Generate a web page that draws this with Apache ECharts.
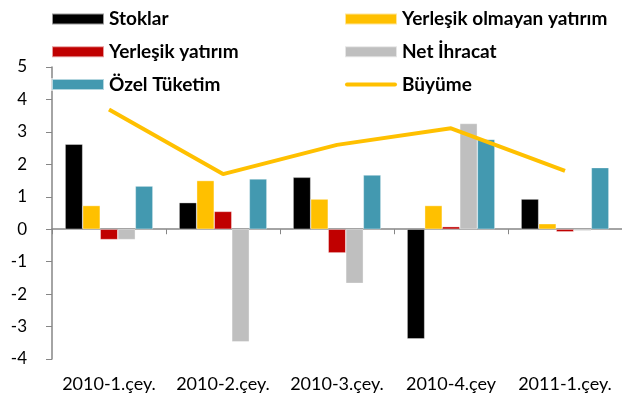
<!DOCTYPE html>
<html>
<head>
<meta charset="utf-8">
<script src="https://cdn.jsdelivr.net/npm/echarts@6/dist/echarts.min.js"></script>
<style>
  html, body { margin: 0; padding: 0; background: #fff; }
  #chart { width: 622px; height: 407px; }
</style>
</head>
<body>
<div id="chart"></div>
<script>
var kategoriler = ['2010-1.çey.', '2010-2.çey.', '2010-3.çey.', '2010-4.çey', '2011-1.çey.'];
var stoklar = [2.62, 0.82, 1.6, -3.38, 0.93];
var yerlesikOlmayan = [0.73, 1.5, 0.93, 0.73, 0.17];
var yerlesikYatirim = [-0.32, 0.55, -0.73, 0.08, -0.08];
var netIhracat = [-0.32, -3.47, -1.67, 3.26, -0.05];
var ozelTuketim = [1.33, 1.55, 1.67, 2.77, 1.9];
var buyume = [3.69, 1.7, 2.6, 3.11, 1.8];
var yTicks = [-4, -3, -2, -1, 0, 1, 2, 3, 4, 5];

var fontAd = 'Lato, "Liberation Sans", sans-serif';

function barSerisi(ad, veri, renk) {
    return {
        name: ad,
        type: 'bar',
        data: veri,
        barGap: '0%',
        barCategoryGap: '23%',
        itemStyle: { color: renk, borderColor: 'rgba(255,255,255,0.6)', borderWidth: 0.6 }
    };
}

var legendText = { fontFamily: fontAd, fontWeight: 'bold', fontSize: 19, color: '#000', lineHeight: 22 };
// çizgi lejantı: ince yuvarlak uçlu şerit
var cizgiIkon = 'path://M2,0 L50,0 A2,2 0 0 1 50,4 L2,4 A2,2 0 0 1 2,0 Z';

var myChart = echarts.init(document.getElementById('chart'), null, { renderer: 'canvas' });
var option = {
    animation: false,
    legend: [
        {
            orient: 'vertical',
            left: 51,
            top: 8,
            padding: 0,
            icon: 'rect',
            itemWidth: 52,
            itemHeight: 11,
            itemGap: 10.8,
            textStyle: legendText,
            data: ['Stoklar', 'Yerleşik yatırım', 'Özel Tüketim']
        },
        {
            orient: 'vertical',
            left: 344,
            top: 8,
            padding: 0,
            icon: 'rect',
            itemWidth: 52,
            itemHeight: 11,
            itemGap: 10.8,
            textStyle: legendText,
            data: ['Yerleşik olmayan yatırım', 'Net İhracat', { name: 'Büyüme', icon: cizgiIkon }]
        }
    ],
    grid: { left: 52, right: -4, top: 67, bottom: 48 },
    xAxis: [
        {
            type: 'category',
            data: kategoriler,
            axisLine: { onZero: true, lineStyle: { color: '#868686', width: 1.5 } },
            axisTick: { show: true, length: 5, lineStyle: { color: '#868686' } },
            axisLabel: { show: false }
        },
        {
            type: 'category',
            data: kategoriler,
            position: 'bottom',
            axisLine: { show: false },
            axisTick: { show: false },
            axisLabel: { interval: 0, hideOverlap: false, margin: 16, fontFamily: fontAd, fontSize: 18, color: '#000' }
        }
    ],
    yAxis: {
        type: 'value',
        min: yTicks[0],
        max: yTicks[yTicks.length - 1],
        interval: 1,
        splitLine: { show: false },
        axisLine: { show: true, lineStyle: { color: '#868686', width: 1.5 } },
        axisTick: { show: true, length: 6, lineStyle: { color: '#868686' } },
        axisLabel: { margin: 25, fontFamily: fontAd, fontSize: 17, color: '#000' }
    },
    series: [
        barSerisi('Stoklar', stoklar, '#000000'),
        barSerisi('Yerleşik olmayan yatırım', yerlesikOlmayan, '#FFC000'),
        barSerisi('Yerleşik yatırım', yerlesikYatirim, '#C00000'),
        barSerisi('Net İhracat', netIhracat, '#BFBFBF'),
        barSerisi('Özel Tüketim', ozelTuketim, '#4399B0'),
        {
            name: 'Büyüme',
            type: 'line',
            data: buyume,
            symbol: 'none',
            itemStyle: { color: '#FFC000' },
            lineStyle: { color: '#FFC000', width: 4 }
        }
    ]
};
myChart.setOption(option);
</script>
</body>
</html>
